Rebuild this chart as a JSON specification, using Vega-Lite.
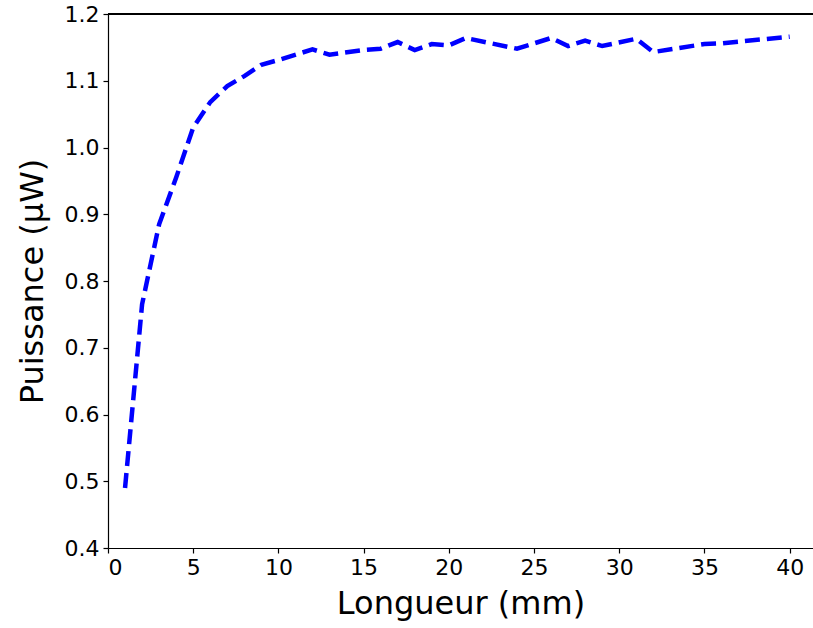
{
  "$schema": "https://vega.github.io/schema/vega-lite/v6.json",
  "autosize": {"type": "none"},
  "padding": {"left": 108, "top": 14, "right": 0, "bottom": 80},
  "width": 705,
  "height": 534,
  "background": "white",
  "config": {
    "view": {"stroke": null},
    "font": "DejaVu Sans",
    "axis": {
      "grid": false,
      "domainColor": "black",
      "domainWidth": 1.2,
      "tickColor": "black",
      "tickWidth": 1.2,
      "tickSize": 5,
      "labelColor": "black",
      "labelFont": "DejaVu Sans",
      "labelFontSize": 22,
      "titleFont": "DejaVu Sans",
      "titleFontSize": 32,
      "titleFontWeight": "normal",
      "titleColor": "black"
    }
  },
  "data": {
    "values": [
      {"longueur": 1, "puissance": 0.49},
      {"longueur": 2, "puissance": 0.765},
      {"longueur": 3, "puissance": 0.885},
      {"longueur": 4, "puissance": 0.955},
      {"longueur": 5, "puissance": 1.03},
      {"longueur": 6, "puissance": 1.068},
      {"longueur": 7, "puissance": 1.092},
      {"longueur": 8, "puissance": 1.107},
      {"longueur": 9, "puissance": 1.124},
      {"longueur": 10, "puissance": 1.131},
      {"longueur": 12, "puissance": 1.147},
      {"longueur": 13, "puissance": 1.139},
      {"longueur": 15, "puissance": 1.146},
      {"longueur": 16, "puissance": 1.148},
      {"longueur": 17, "puissance": 1.158},
      {"longueur": 18, "puissance": 1.146},
      {"longueur": 19, "puissance": 1.155},
      {"longueur": 20, "puissance": 1.153},
      {"longueur": 21, "puissance": 1.164},
      {"longueur": 24, "puissance": 1.148},
      {"longueur": 26, "puissance": 1.164},
      {"longueur": 27, "puissance": 1.152},
      {"longueur": 28, "puissance": 1.16},
      {"longueur": 29, "puissance": 1.152},
      {"longueur": 31, "puissance": 1.163},
      {"longueur": 32, "puissance": 1.143},
      {"longueur": 35, "puissance": 1.155},
      {"longueur": 36, "puissance": 1.156},
      {"longueur": 40, "puissance": 1.166}
    ]
  },
  "layer": [
    {
      "mark": {"type": "rule", "color": "black", "strokeWidth": 1.2},
      "encoding": {"y": {"datum": 1.2, "type": "quantitative", "scale": {"domain": [0.4, 1.2]}}}
    },
    {
      "mark": {"type": "line", "color": "#0000ff", "strokeWidth": 4.5, "strokeDash": [15, 7]},
      "encoding": {
        "x": {
          "field": "longueur",
          "type": "quantitative",
          "scale": {"domain": [0, 41.37], "nice": false, "zero": false},
          "axis": {"values": [0, 5, 10, 15, 20, 25, 30, 35, 40], "title": "Longueur (mm)", "labelPadding": 4, "titlePadding": 10}
        },
        "y": {
          "field": "puissance",
          "type": "quantitative",
          "scale": {"domain": [0.4, 1.2], "nice": false, "zero": false},
          "axis": {"values": [0.4, 0.5, 0.6, 0.7, 0.8, 0.9, 1.0, 1.1, 1.2], "format": ".1f", "title": "Puissance (µW)", "labelPadding": 4, "titlePadding": 15}
        }
      }
    }
  ]
}
